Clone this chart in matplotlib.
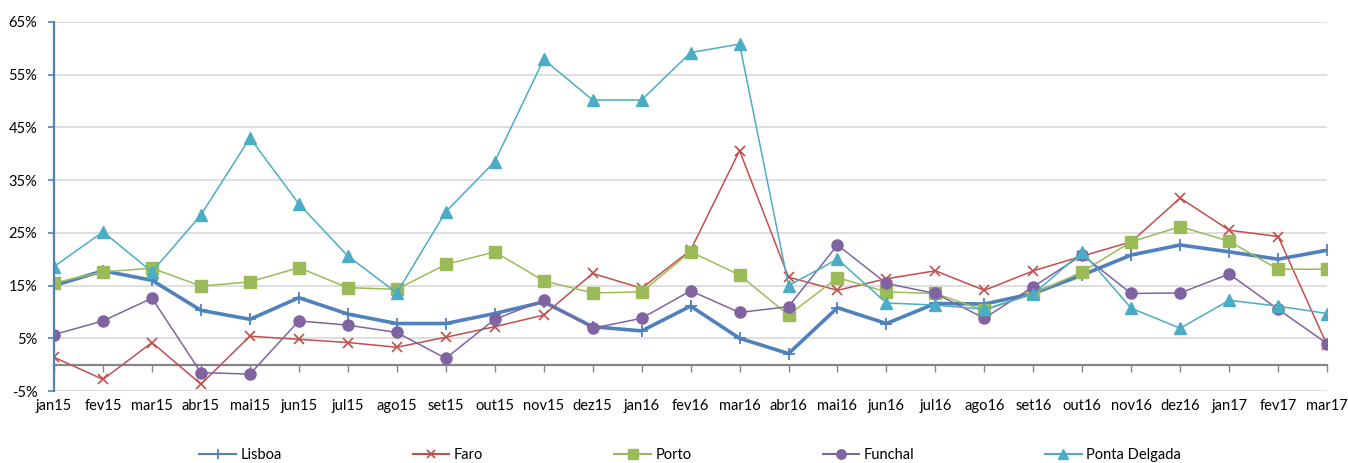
import matplotlib.pyplot as plt
import numpy as np

months = ['jan15', 'fev15', 'mar15', 'abr15', 'mai15', 'jun15', 'jul15', 'ago15', 'set15',
          'out15', 'nov15', 'dez15', 'jan16', 'fev16', 'mar16', 'abr16', 'mai16', 'jun16',
          'jul16', 'ago16', 'set16', 'out16', 'nov16', 'dez16', 'jan17', 'fev17', 'mar17']

lisboa = [15.0, 17.8, 16.0, 10.3, 8.6, 12.7, 9.6, 7.8, 7.8, 9.7, 11.9, 7.2, 6.4, 11.1,
          5.0, 2.1, 10.8, 7.8, 11.6, 11.5, 13.5, 17.0, 20.8, 22.7, 21.4, 20.0, 21.7]
faro = [1.4, -2.8, 4.2, -3.7, 5.4, 4.8, 4.2, 3.3, 5.2, 7.2, 9.4, 17.3, 14.5, 21.7,
        40.6, 16.6, 14.1, 16.3, 17.8, 14.1, 17.8, 20.6, 23.3, 31.6, 25.5, 24.3, 3.7]
porto = [15.5, 17.6, 18.3, 14.9, 15.7, 18.4, 14.6, 14.3, 19.0, 21.4, 15.9, 13.6, 13.8, 21.4,
         17.0, 9.4, 16.5, 13.8, 13.5, 10.3, 13.5, 17.6, 23.3, 26.2, 23.4, 18.1, 18.1]
funchal = [5.7, 8.3, 12.6, -1.5, -1.8, 8.3, 7.5, 6.1, 1.2, 8.6, 12.2, 6.9, 8.8, 14.0,
           9.9, 11.0, 22.7, 15.4, 13.5, 8.8, 14.8, 20.8, 13.5, 13.6, 17.2, 10.5, 4.0]
ponta_delgada = [18.6, 25.2, 17.6, 28.4, 43.0, 30.5, 20.6, 13.6, 29.0, 38.5, 57.9, 50.2,
                 50.2, 59.2, 60.8, 15.0, 20.0, 11.7, 11.3, 10.5, 13.4, 21.4, 10.7, 6.9,
                 12.2, 11.1, 9.7]

plt.rcParams['font.family'] = ['Lato', 'DejaVu Sans']

fig = plt.figure(figsize=(13.48, 4.63), dpi=100)
ax = fig.add_axes([0.0401, 0.1555, 0.9444, 0.797])

x = np.arange(len(months))
ax.plot(x, lisboa, color='#4F81BD', lw=2.6, marker='+', ms=9, mew=1.3, label='Lisboa')
ax.plot(x, faro, color='#C0504D', lw=1.1, marker='x', ms=7, mew=1.2, label='Faro')
ax.plot(x, porto, color='#9BBB59', lw=1.1, marker='s', ms=8, label='Porto')
ax.plot(x, funchal, color='#8064A2', lw=1.1, marker='o', ms=8, label='Funchal')
ax.plot(x, ponta_delgada, color='#4BACC6', lw=1.1, marker='^', ms=8, label='Ponta Delgada')

ax.set_xlim(0, len(months) - 1)
ax.set_ylim(-5, 65)
ax.set_yticks(np.arange(-5, 66, 10))
ax.set_yticklabels([f'{v}%' for v in range(-5, 66, 10)], fontsize=10.5)
ax.yaxis.grid(True, color='#d9d9d9', lw=1.2)
ax.set_axisbelow(True)
ax.tick_params(axis='y', direction='out', length=4, width=1.2, color='#4F81BD', pad=8)

for s in ['top', 'right']:
    ax.spines[s].set_visible(False)
ax.spines['left'].set_color('#4F81BD')
ax.spines['left'].set_linewidth(1.6)
ax.spines['bottom'].set_position(('data', 0))
ax.spines['bottom'].set_color('#868686')
ax.spines['bottom'].set_linewidth(1.6)
ax.spines['bottom'].set_zorder(1.5)

# category ticks sit on the zero line, labels go under the plot
ax.set_xticks(x)
ax.tick_params(axis='x', direction='out', length=5, width=1, color='#868686', labelbottom=False)
sec = ax.secondary_xaxis('bottom')
sec.set_xticks(x)
sec.set_xticklabels(months, fontsize=10.5)
sec.tick_params(length=0, pad=6)
sec.spines['bottom'].set_visible(False)

leg = fig.legend(loc='center', bbox_to_anchor=(0.512, 0.018), ncol=5, frameon=False,
                 fontsize=10.5, columnspacing=9.0, handlelength=2.5, handletextpad=0.3,
                 markerscale=0.85)
for line in leg.get_lines():
    line.set_linewidth(1.5)

plt.savefig('out.png', dpi=100)
